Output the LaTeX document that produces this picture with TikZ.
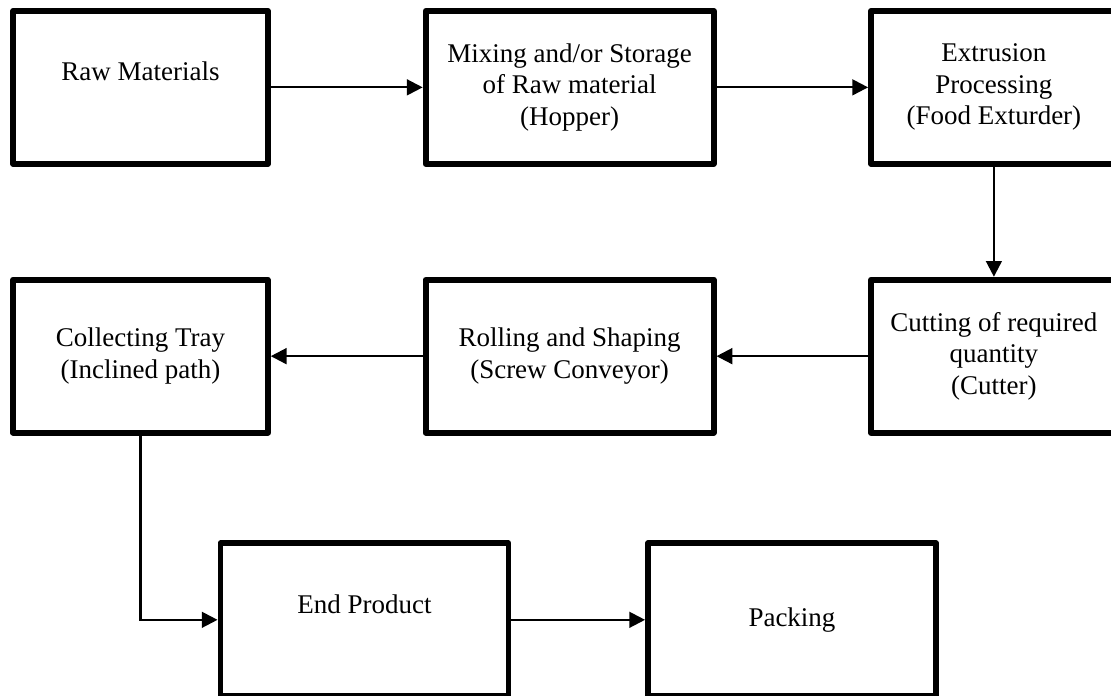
\documentclass[tikz,border=0pt]{standalone}
\usepackage{fontspec}
\setmainfont{Liberation Serif}
\usetikzlibrary{arrows.meta}

\begin{document}
\begin{tikzpicture}[
  stage/.style={draw, line width=2.6pt, line join=round, minimum height=2.39cm,
    align=center, inner sep=2pt, font=\fontsize{12}{14}\selectfont},
  flow/.style={line width=1pt, -{Triangle[length=7pt,width=7pt]}}]
\useasboundingbox (0,0) rectangle (17.36,10.875);

\node[stage, minimum width=3.98cm] (raw) at (2.195,9.51) {Raw Materials\\~};
\node[stage, minimum width=4.5cm] (mix) at (8.9,9.51) {Mixing and/or Storage\\of Raw material\\(Hopper)};
\node[stage, minimum width=3.84cm] (ext) at (15.53,9.51) {Extrusion\\Processing\\(Food Exturder)};

\node[stage, minimum width=3.84cm] (cut) at (15.53,5.31) {Cutting of required\\quantity\\(Cutter)};
\node[stage, minimum width=4.5cm] (roll) at (8.9,5.31) {Rolling and Shaping\\(Screw Conveyor)};
\node[stage, minimum width=3.98cm] (tray) at (2.195,5.31) {Collecting Tray\\(Inclined path)};

\node[stage, minimum width=4.5cm] (prod) at (5.695,1.19) {End Product\\~};
\node[stage, minimum width=4.5cm] (pack) at (12.375,1.19) {Packing};

\draw[flow] (raw) -- (mix);
\draw[flow] (mix) -- (ext);
\draw[flow] (ext) -- (cut);
\draw[flow] (cut) -- (roll);
\draw[flow] (roll) -- (tray);
\draw[flow] (tray.south) |- (prod.west);
\draw[flow] (prod) -- (pack);
\end{tikzpicture}
\end{document}
